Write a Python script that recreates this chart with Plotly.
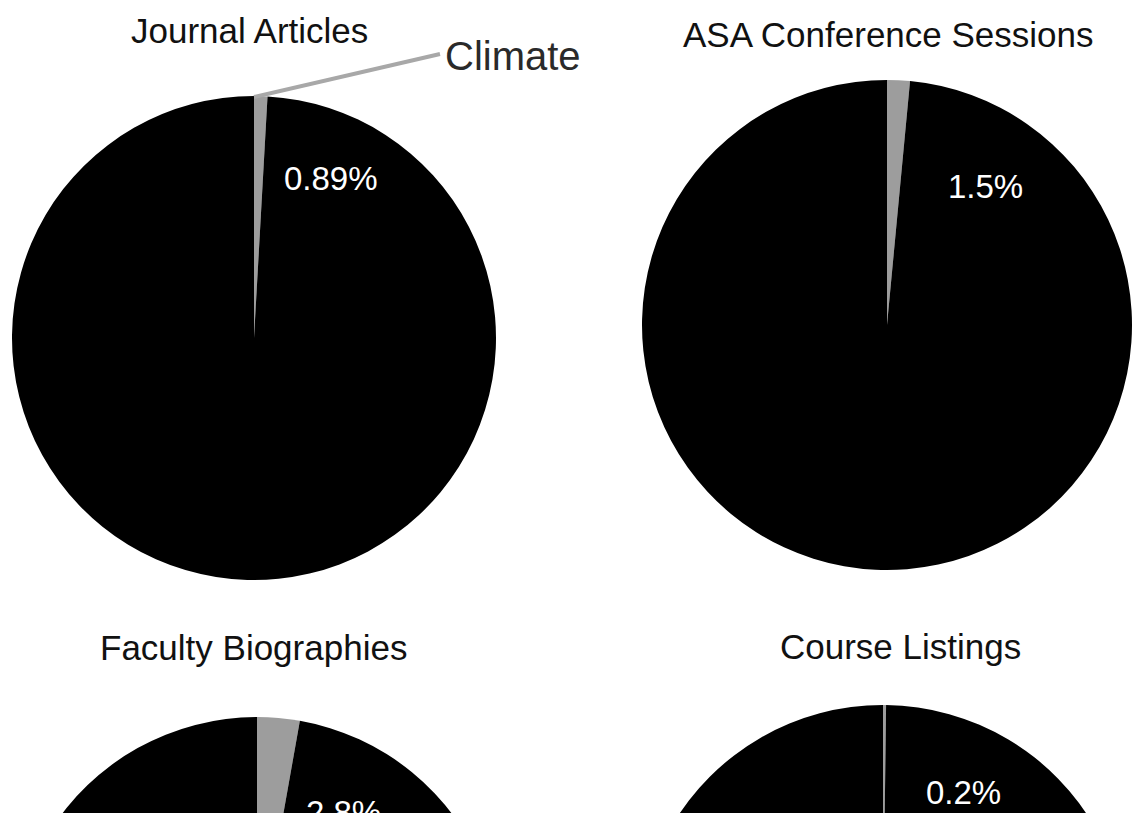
import plotly.graph_objects as go

# Share of items mentioning climate, by source
sources = ["Journal Articles", "ASA Conference Sessions", "Faculty Biographies", "Course Listings"]
climate_pct = [0.89, 1.5, 2.8, 0.2]
pct_labels = ["0.89%", "1.5%", "2.8%", "0.2%"]
slice_names = ["Climate", "Other"]

W, H = 1132, 1220
FONT = "Liberation Sans, Arial, Helvetica, sans-serif"
GREY = "#9d9d9d"

# pixel layout of each pie: (left, top, diameter)
pie_boxes = [(12, 96, 484), (642, 80, 490), (12, 717, 490), (638, 705, 490)]
# pixel centres of titles and percentage labels
title_pos = [(250, 30), (888, 35), (253, 647), (900, 646)]
pct_pos = [(331, 179), (985, 187), (343, 812), (964, 792)]


def px_x(x):
    return x / W


def px_y(y):
    return 1 - y / H


fig = go.Figure()

for name, pct, box in zip(sources, climate_pct, pie_boxes):
    left, top, d = box
    fig.add_trace(go.Pie(
        labels=slice_names,
        values=[pct, 100 - pct],
        sort=False,
        direction="clockwise",
        rotation=0,
        marker=dict(colors=[GREY, "#000000"], line=dict(width=0)),
        textinfo="none",
        hoverinfo="label+percent",
        showlegend=False,
        domain=dict(x=[px_x(left), px_x(left + d)], y=[px_y(top + d), px_y(top)]),
        name=name,
    ))

annotations = []
for name, (tx, ty) in zip(sources, title_pos):
    annotations.append(dict(
        x=px_x(tx), y=px_y(ty), xref="paper", yref="paper",
        text=name, showarrow=False, xanchor="center", yanchor="middle",
        font=dict(family=FONT, size=35, color="#111111"),
    ))
for lab, (tx, ty) in zip(pct_labels, pct_pos):
    annotations.append(dict(
        x=px_x(tx), y=px_y(ty), xref="paper", yref="paper",
        text=lab, showarrow=False, xanchor="center", yanchor="middle",
        font=dict(family=FONT, size=33, color="#ffffff"),
    ))

# callout naming the grey slice on the first pie
annotations.append(dict(
    x=px_x(443), y=px_y(56), xref="paper", yref="paper",
    text="Climate", showarrow=False, xanchor="left", yanchor="middle",
    font=dict(family=FONT, size=40, color="#2a2a2a"),
))
leader = dict(
    type="line", xref="paper", yref="paper",
    x0=px_x(254), y0=px_y(97), x1=px_x(440), y1=px_y(54),
    line=dict(color="#a8a8a8", width=4),
)

fig.update_layout(
    width=W, height=H,
    margin=dict(l=0, r=0, t=0, b=0),
    paper_bgcolor="#ffffff",
    plot_bgcolor="#ffffff",
    annotations=annotations,
    shapes=[leader],
)

fig.write_html("out.html")
